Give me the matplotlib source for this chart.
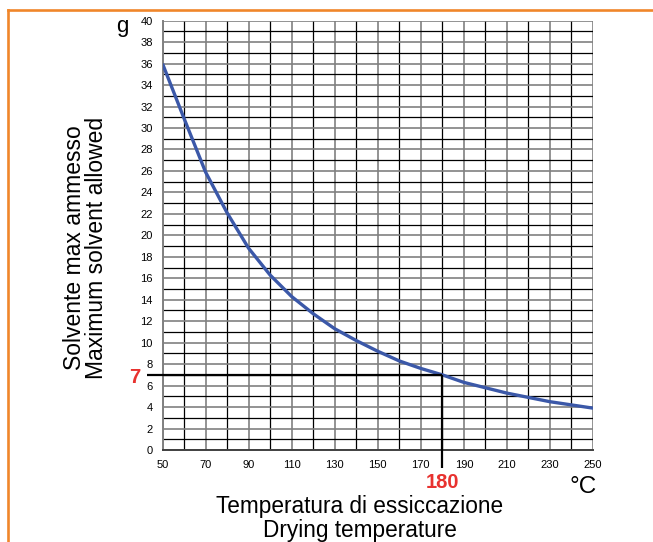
import matplotlib
matplotlib.use("Agg")
import matplotlib.pyplot as plt
from matplotlib.lines import Line2D

plt.rcParams['font.family'] = ['Liberation Sans', 'DejaVu Sans']

# ---- data ----
temps = [50, 60, 70, 80, 90, 100, 110, 120, 130, 140, 150,
         160, 170, 180, 190, 200, 210, 220, 230, 240, 250]
solvent = [36.0, 30.9, 25.9, 22.1, 18.8, 16.3, 14.3, 12.7, 11.3, 10.2, 9.2,
           8.3, 7.6, 7.0, 6.3, 5.8, 5.3, 4.9, 4.5, 4.2, 3.9]
x_tick_labels = [50, 70, 90, 110, 130, 150, 170, 190, 210, 230, 250]
y_tick_labels = list(range(0, 41, 2))
ref_temp = 180
ref_solvent = 7
y_title = ["Solvente max ammesso", "Maximum solvent allowed"]
x_title = ["Temperatura di essiccazione", "Drying temperature"]
y_unit = "g"
x_unit = "°C"

W, H = 653, 542
fig = plt.figure(figsize=(W / 100, H / 100), dpi=100)
fig.patch.set_facecolor('white')

L, R, T, B = 162.5, 593.0, 20.7, 450.0
ax = fig.add_axes([L / W, 1 - B / H, (R - L) / W, (B - T) / H])
xmin, xmax, ymin, ymax = 50, 250, 0, 40
ax.set_xlim(xmin, xmax)
ax.set_ylim(ymin, ymax)

gray = '#808080'
# grid
for v in range(xmin, xmax + 1, 10):
    if v in x_tick_labels:
        ax.axvline(v, color=gray, lw=1.2, zorder=1)
    else:
        ax.axvline(v, color='black', lw=0.9, zorder=1)
for v in range(ymin, ymax + 1, 1):
    if v in y_tick_labels:
        ax.axhline(v, color=gray, lw=1.2, zorder=1)
    else:
        ax.axhline(v, color='black', lw=0.9, zorder=1)

for s in ax.spines.values():
    s.set_visible(False)
ax.spines['left'].set_visible(True)
ax.spines['left'].set_color(gray)
ax.spines['left'].set_linewidth(1.4)
ax.spines['bottom'].set_visible(True)
ax.spines['bottom'].set_color('#404040')
ax.spines['bottom'].set_linewidth(1.4)

ax.set_xticks(x_tick_labels)
ax.set_xticklabels([str(v) for v in x_tick_labels])
ax.set_yticks(y_tick_labels)
ax.set_yticklabels([str(v) for v in y_tick_labels])
ax.tick_params(axis='both', length=0, labelsize=8, colors='black')
ax.tick_params(axis='x', pad=7.5)
ax.tick_params(axis='y', pad=7)

# curve
ax.plot(temps, solvent, color='#3B58A8', lw=2.4, zorder=4,
        solid_capstyle='butt', solid_joinstyle='round')

# reference lines
axw = R - L
axh = B - T
x_start = xmin - 15.8 / axw * (xmax - xmin)
y_end = ymin - 18.0 / axh * (ymax - ymin)
ax.plot([x_start, ref_temp], [ref_solvent, ref_solvent], color='black',
        lw=1.6, clip_on=False, zorder=5, solid_capstyle='butt')
ax.plot([ref_temp, ref_temp], [ref_solvent, y_end], color='black',
        lw=1.6, clip_on=False, zorder=5, solid_capstyle='butt')

red = '#E8322F'
ax.annotate(str(ref_temp), xy=(ref_temp, ymin), xytext=(0, -27.1),
            textcoords='offset points', ha='center', va='baseline',
            color=red, fontsize=14.5, fontweight='bold', annotation_clip=False)
ax.annotate(str(ref_solvent), xy=(xmin, ref_solvent), xytext=(-15.7, -5.6),
            textcoords='offset points', ha='right', va='baseline',
            color=red, fontsize=14.5, fontweight='bold', annotation_clip=False)


def fx(px):
    return px / W


def fy(py):
    return 1 - py / H


fig.text(fx(122), fy(32), y_unit, fontsize=16, ha='center', va='baseline')
fig.text(fx(583), fy(492.7), x_unit, fontsize=17.5, ha='center', va='baseline')

fig.text(fx(81), fy(248), y_title[0], fontsize=16.5, rotation=90,
         rotation_mode='anchor', ha='center', va='baseline')
fig.text(fx(103), fy(248), y_title[1], fontsize=16.5, rotation=90,
         rotation_mode='anchor', ha='center', va='baseline')
fig.text(fx(359.5), fy(513), x_title[0], fontsize=16.3, ha='center', va='baseline')
fig.text(fx(360), fy(537), x_title[1], fontsize=16.3, ha='center', va='baseline')

# orange frame (top and left)
orange = '#F0862A'
fig.add_artist(Line2D([fx(8), 1.0], [fy(9.5), fy(9.5)], color=orange,
                      lw=1.9, transform=fig.transFigure))
fig.add_artist(Line2D([fx(8), fx(8)], [fy(9.5), 0.0], color=orange,
                      lw=1.9, transform=fig.transFigure))

fig.savefig('out.png', dpi=100, facecolor='white')
